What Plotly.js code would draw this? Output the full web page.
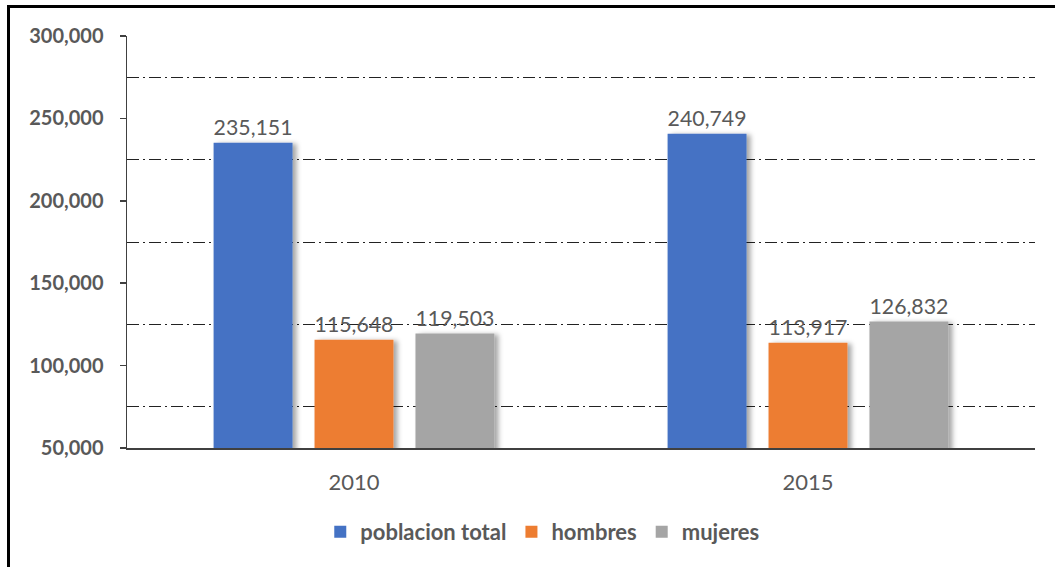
<!DOCTYPE html>
<html>
<head>
<meta charset="utf-8">
<script src="https://cdn.plot.ly/plotly-3.0.1.min.js"></script>
<style>
  html, body { margin: 0; padding: 0; background: #fff; }
  #chart { width: 1055px; height: 567px; position: absolute; left: 0; top: 0; }
  #frame { position: absolute; left: 7px; top: 5px; width: 1060px; height: 600px;
           border-top: 3px solid #000; border-left: 3px solid #000; pointer-events: none; }
  .barlayer .point path { filter: url(#barshadow); }
</style>
</head>
<body>
<svg width="0" height="0" style="position:absolute">
  <defs>
    <filter id="barshadow" x="-20%" y="-10%" width="150%" height="130%">
      <feDropShadow dx="4" dy="1" stdDeviation="2.5" flood-color="#000" flood-opacity="0.35"/>
    </filter>
  </defs>
</svg>
<div id="chart"></div>
<div id="frame"></div>
<script>
const years = ['2010', '2015'];
const poblacionTotal = [235151, 240749];
const hombres = [115648, 113917];
const mujeres = [119503, 126832];
const seriesNames = ['poblacion total', 'hombres', 'mujeres'];
const seriesColors = ['#4472C4', '#ED7D31', '#A5A5A5'];
const yTickVals = [50000, 100000, 150000, 200000, 250000, 300000];

const fmt = v => v.toLocaleString('en-US');
const textColor = '#595959';
const fontFam = 'Lato, "Open Sans", sans-serif';

const seriesData = [poblacionTotal, hombres, mujeres];
const traces = seriesData.map((vals, i) => ({
  type: 'bar',
  name: seriesNames[i],
  x: years,
  y: vals,
  marker: { color: seriesColors[i] },
  text: vals.map(fmt),
  textposition: 'outside',
  cliponaxis: false,
  textfont: { family: fontFam, size: 22, color: textColor },
  hoverinfo: 'x+y'
}));

const layout = {
  width: 1055,
  height: 567,
  margin: { l: 127, r: 20, t: 36, b: 119, autoexpand: false },
  paper_bgcolor: '#fff',
  plot_bgcolor: '#fff',
  barmode: 'group',
  bargap: 0.333,
  bargroupgap: 0.218,
  showlegend: true,
  legend: {
    orientation: 'h',
    xref: 'container', yref: 'container',
    x: 0.514, xanchor: 'center',
    y: 0.062, yanchor: 'middle',
    font: { family: fontFam, size: 22, color: textColor, weight: 'bold' },
    itemwidth: 30
  },
  xaxis: {
    type: 'category',
    automargin: false,
    showline: true,
    linecolor: '#404040',
    linewidth: 1.5,
    ticks: '',
    showgrid: false,
    zeroline: false,
    ticklabelstandoff: 14,
    tickfont: { family: fontFam, size: 22, color: textColor }
  },
  yaxis: {
    automargin: false,
    range: [50000, 300000],
    tickvals: yTickVals,
    ticktext: yTickVals.map(fmt),
    showline: true,
    linecolor: '#404040',
    linewidth: 1.5,
    ticks: 'outside',
    ticklen: 6,
    tickcolor: '#404040',
    tickwidth: 1.5,
    showgrid: false,
    zeroline: false,
    ticklabelstandoff: 12,
    tickfont: { family: fontFam, size: 20, color: textColor, weight: 'bold' },
    minor: {
      tickmode: 'linear',
      tick0: 25000,
      dtick: 50000,
      showgrid: true,
      gridcolor: '#222',
      gridwidth: 1,
      griddash: '12px,4px,2px,4px',
      ticks: ''
    }
  }
};

Plotly.newPlot('chart', traces, layout, { displayModeBar: false, staticPlot: true });
</script>
</body>
</html>
